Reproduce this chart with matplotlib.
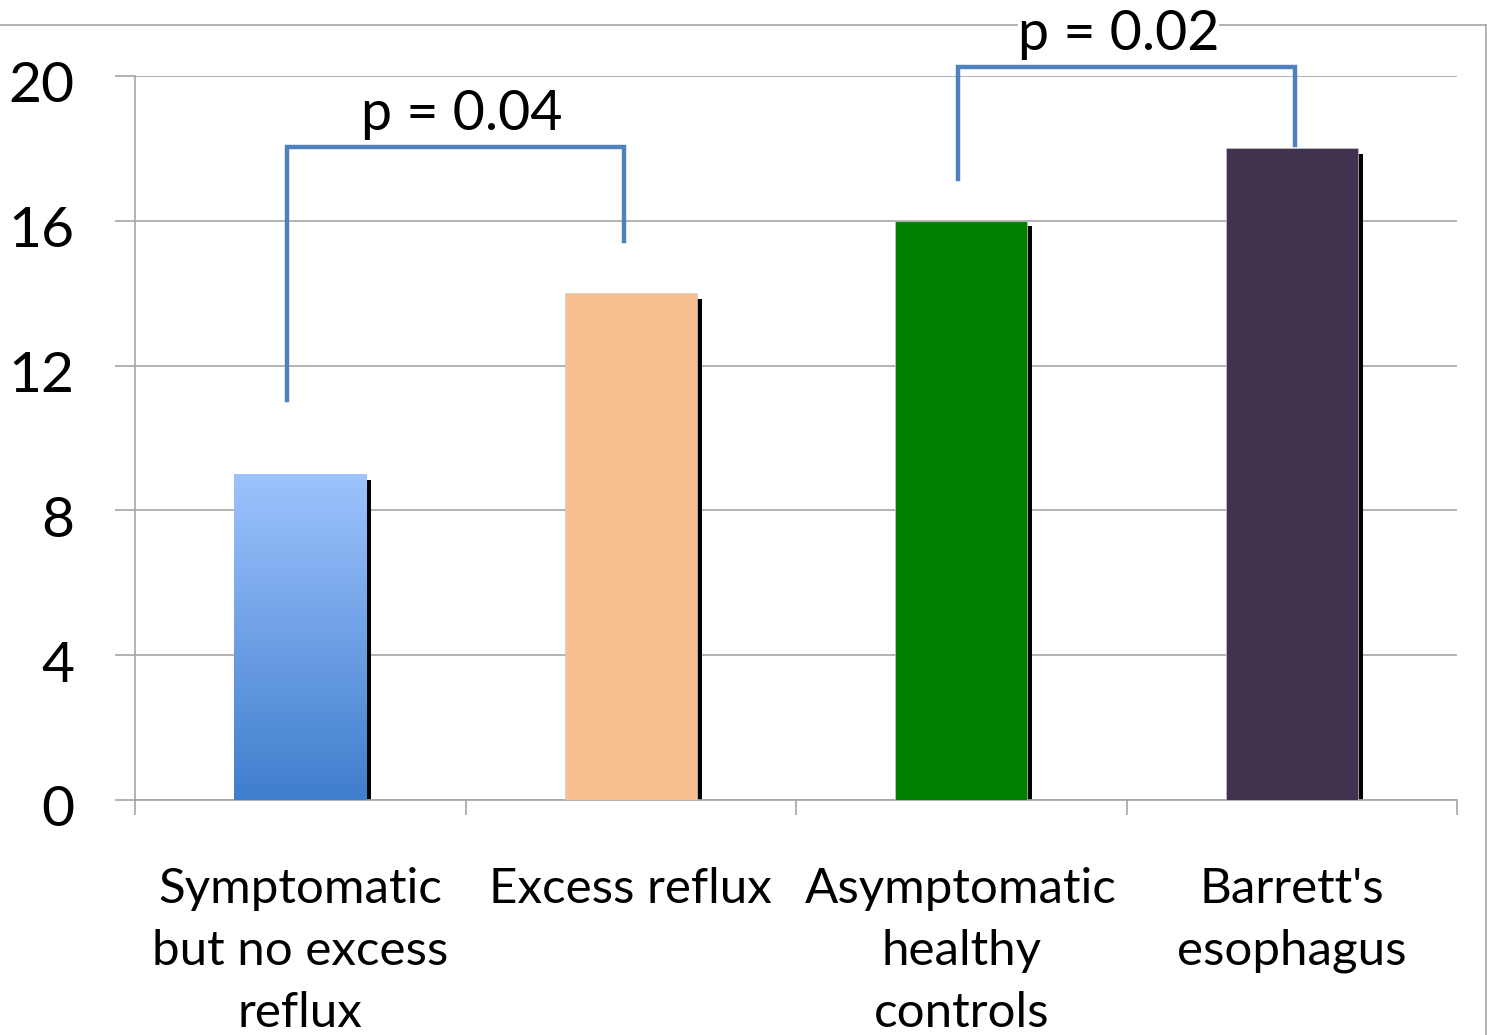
"""Bar chart of four patient groups with significance brackets."""
import matplotlib
matplotlib.use("Agg")
import matplotlib.pyplot as plt
import matplotlib.transforms as mtransforms
import numpy as np
from matplotlib.colors import LinearSegmentedColormap
from matplotlib.lines import Line2D

plt.rcParams["font.family"] = ["Lato", "DejaVu Sans"]

groups = ["Symptomatic\nbut no excess\nreflux", "Excess reflux",
          "Asymptomatic\nhealthy\ncontrols", "Barrett's\nesophagus"]
values = [9, 14, 16, 18]
colors = [None, "#F8C090", "#008000", "#41324F"]
yticks = [0, 4, 8, 12, 16, 20]

# brackets: (left x, right x, left foot, top, right foot)
brackets = [(-0.04, 0.98, 11.05, 18.05, 15.45),
            (1.99, 3.01, 17.15, 20.25, 18.1)]
p_labels = ["p = 0.04", "p = 0.02"]
p_pos = [(0.49, 18.5), (2.475, 20.72)]

BLUE = "#4F81BD"
GRID = "#A6A6A6"
W = 0.4

fig = plt.figure(figsize=(14.87, 10.35), dpi=100)
ax = fig.add_axes([135 / 1487, 1 - 800 / 1035, (1457 - 135) / 1487, (800 - 76) / 1035])

x = np.arange(len(values))
# drop shadow on the right of each bar
ax.bar(x + 0.015, np.array(values) - 0.15, width=W, color="black", zorder=2)
for i, v in enumerate(values):
    if colors[i] is None:
        continue
    ax.bar(i, v, width=W, color=colors[i], edgecolor="#C8C8C8", linewidth=0.5, zorder=3)

# first bar has a vertical blue gradient
grad = LinearSegmentedColormap.from_list("bl", ["#3F7ECD", "#9EC3FE"])
ax.imshow(np.linspace(0, 1, 256).reshape(-1, 1), cmap=grad, origin="lower",
          extent=[-W / 2, W / 2, 0, values[0]], aspect="auto", zorder=3)

ax.set_xlim(-0.5, 3.5)
ax.set_ylim(0, 20)

ax.set_yticks(yticks)
ax.set_yticklabels([str(t) for t in yticks], fontsize=41)
ax.tick_params(axis="y", length=14.4, width=1.2, color=GRID, pad=29)
ax.grid(axis="y", color=GRID, linewidth=1.2, zorder=0)
# y labels sit a little below their gridlines
shift = mtransforms.ScaledTranslation(0, -6 / 100, fig.dpi_scale_trans)
for lbl in ax.get_yticklabels():
    lbl.set_transform(lbl.get_transform() + shift)

ax.set_xticks(np.arange(-0.5, 3.6, 1.0))
ax.set_xticklabels([])
ax.set_xticks(x, minor=True)
ax.set_xticklabels(groups, minor=True, fontsize=35.5, linespacing=1.5)
ax.tick_params(axis="x", which="major", length=11, width=1.2, color=GRID)
ax.tick_params(axis="x", which="minor", length=0, pad=48)

for s in ["top", "right"]:
    ax.spines[s].set_visible(False)
for s in ["left", "bottom"]:
    ax.spines[s].set_color(GRID)
    ax.spines[s].set_linewidth(1.2)
ax.set_axisbelow(True)

for (x0, x1, y0, ytop, y1), label, (tx, ty) in zip(brackets, p_labels, p_pos):
    ax.plot([x0, x0, x1, x1], [y0, ytop, ytop, y1], color=BLUE, lw=3.2,
            solid_joinstyle="miter", clip_on=False, zorder=5)
    ax.text(tx, ty, label, ha="center", va="baseline", fontsize=40, clip_on=False,
            zorder=6, bbox=dict(facecolor="white", edgecolor="none", pad=0))

# outer frame lines
fig.add_artist(Line2D([0, 1485.5 / 1487], [1 - 25 / 1035] * 2, color=GRID, lw=1.2, zorder=-1))
fig.add_artist(Line2D([1485.5 / 1487] * 2, [0, 1 - 25 / 1035], color=GRID, lw=1.2, zorder=-1))

fig.savefig("out.png", dpi=100)
